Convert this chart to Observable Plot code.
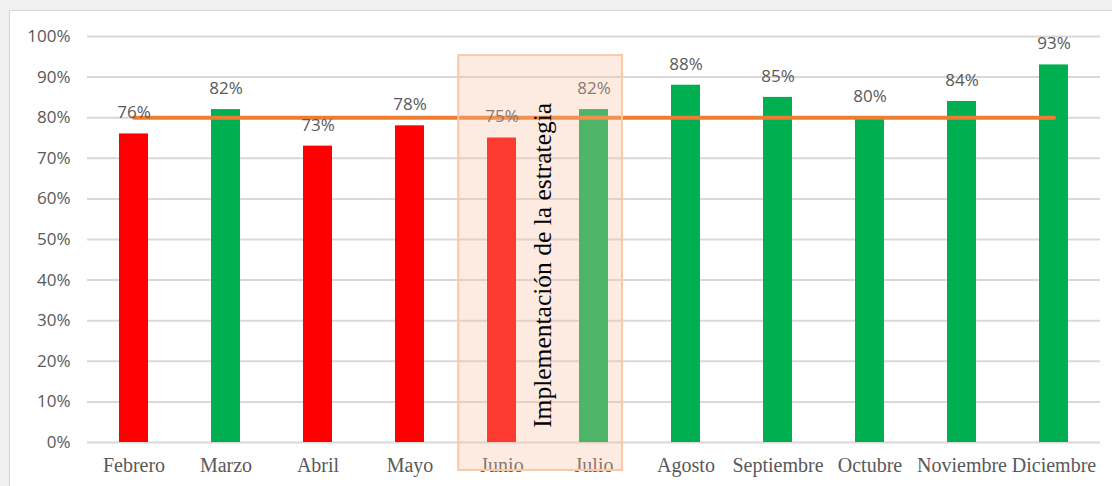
<!DOCTYPE html>
<html>
<head>
<meta charset="utf-8">
<script src="https://cdn.jsdelivr.net/npm/d3@7"></script>
<script src="https://cdn.jsdelivr.net/npm/@observablehq/plot@0.6"></script>
<style>
  html, body { margin: 0; padding: 0; background: #f0f0f0; width: 1112px; height: 486px; overflow: hidden; }
  #panel { position: absolute; left: 9px; top: 10px; width: 1110px; height: 480px; background: #fff; border: 1px solid #d6d6d6; }
  #chart { position: absolute; left: 0; top: 0; }
</style>
</head>
<body>
<div id="panel"></div>
<div id="chart"></div>
<script>
const months = ["Febrero","Marzo","Abril","Mayo","Junio","Julio","Agosto","Septiembre","Octubre","Noviembre","Diciembre"];
const values = [0.76, 0.82, 0.73, 0.78, 0.75, 0.82, 0.88, 0.85, 0.80, 0.84, 0.93];
const target = 0.80;
const yTicks = [0, 0.1, 0.2, 0.3, 0.4, 0.5, 0.6, 0.7, 0.8, 0.9, 1.0];
const strategyMonths = ["Junio", "Julio"];
const strategyLabel = "Implementación de la estrategia";

const data = months.map((m, i) => ({month: m, value: values[i], target}));
const colorOf = v => v >= target ? "#00b050" : "#ff0000";
const pct = v => Math.round(v * 100) + "%";

const padInner = 0.685;

function strategyBox(index, scales, values, dimensions) {
  const x = scales.x, y = scales.y;
  const step = x(months[1]) - x(months[0]);
  const bw = step * (1 - padInner);
  const c0 = x(strategyMonths[0]) + bw / 2;
  const c1 = x(strategyMonths[1]) + bw / 2;
  const left = c0 - 0.47 * step;
  const right = c1 + 0.31 * step;
  const top = y(0.953);
  const bottom = y(-0.069);
  const g = d3.create("svg:g");
  g.append("rect")
    .attr("x", left).attr("y", top)
    .attr("width", right - left).attr("height", bottom - top)
    .attr("fill", "#f8be9e").attr("fill-opacity", 0.31)
    .attr("stroke", "#f8c9a6").attr("stroke-width", 2);
  const tx = (c0 + c1) / 2 - 2;
  const ty = y(0.435);
  g.append("text")
    .attr("transform", `translate(${tx},${ty}) rotate(-90)`)
    .attr("text-anchor", "middle")
    .attr("dominant-baseline", "middle")
    .attr("font-family", "'Liberation Serif', 'Times New Roman', serif")
    .attr("font-size", 25.5)
    .attr("fill", "#000")
    .text(strategyLabel);
  return g.node();
}

const chart = Plot.plot({
  width: 1112,
  height: 486,
  marginLeft: 87,
  marginRight: 12,
  marginTop: 36,
  marginBottom: 44,
  style: {background: "transparent", fontFamily: "'Open Sans', sans-serif"},
  x: {domain: months, paddingInner: padInner, paddingOuter: padInner / 2, label: null},
  y: {domain: [0, 1], label: null},
  marks: [
    Plot.gridY(yTicks, {stroke: "#d9d9d9", strokeOpacity: 1, strokeWidth: 2}),
    Plot.axisY(yTicks, {tickSize: 0, tickPadding: 17, tickFormat: pct, fontSize: 17, fill: "#595959", label: null}),
    Plot.barY(data, {x: "month", y: "value", fill: d => colorOf(d.value)}),
    Plot.lineY(data, {x: "month", y: "target", stroke: "#ed7d31", strokeWidth: 4, strokeLinecap: "round"}),
    Plot.text(data, {x: "month", y: "value", text: d => pct(d.value), dy: -21, fontSize: 17, fill: "#595959"}),
    Plot.axisX({tickSize: 0, tickPadding: 15, fontSize: 20, fontFamily: "'Liberation Serif', 'Times New Roman', serif", fill: "#595959", label: null}),
    strategyBox
  ]
});
document.getElementById("chart").append(chart);
</script>
</body>
</html>
